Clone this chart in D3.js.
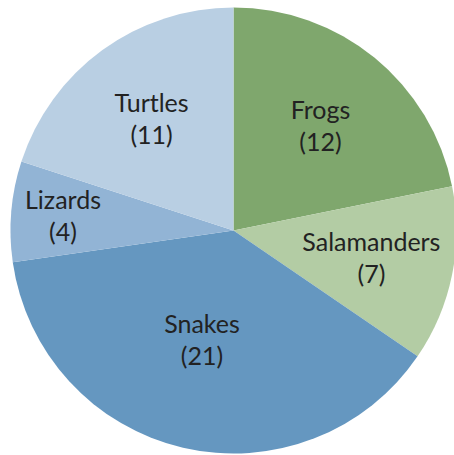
<!DOCTYPE html>
<html><head><meta charset="utf-8">
<script src="https://cdn.jsdelivr.net/npm/d3@7"></script>
<style>html,body{margin:0;padding:0;background:#fff;overflow:hidden}</style>
</head><body>
<svg id="chart" width="454" height="455"></svg>
<script>
const categories = ["Frogs", "Salamanders", "Snakes", "Lizards", "Turtles"];
const values = [12, 7, 21, 4, 11];
const colors = ["#7fa76d", "#b3cca4", "#6597c0", "#92b4d5", "#b9cfe3"];

const W = 454, H = 455;
const cx = 233.5, cy = 230.5, R = 223;
const svg = d3.select("#chart");
const g = svg.append("g").attr("transform", `translate(${cx},${cy})`);

const data = categories.map((c, i) => ({ name: c, value: values[i], color: colors[i] }));
const pie = d3.pie().sort(null).value(d => d.value);
const arcs = pie(data);
const arc = d3.arc().innerRadius(0).outerRadius(R);

g.selectAll("path.slice").data(arcs).join("path")
  .attr("class", "slice")
  .attr("d", arc)
  .attr("fill", d => d.data.color)
  .attr("stroke", "none");

// label placement (radius fraction, angle nudge in degrees) mimicking Excel best-fit
const labelFrac = { Frogs: 0.58, Salamanders: 0.64, Snakes: 0.55, Lizards: 0.765, Turtles: 0.59 };
const labelNudge = { Frogs: 3, Salamanders: 3.5, Snakes: 1.8, Lizards: -3, Turtles: -2.5 };
const lineGap = 32;
const labels = g.selectAll("text.lbl").data(arcs).join("text")
  .attr("class", "lbl")
  .attr("text-anchor", "middle")
  .attr("font-family", "Lato, 'Open Sans', sans-serif")
  .attr("font-size", 25)
  .attr("fill", "#222")
  .attr("transform", d => {
    const a = (d.startAngle + d.endAngle) / 2 + labelNudge[d.data.name] * Math.PI / 180;
    const r = R * labelFrac[d.data.name];
    return `translate(${r * Math.sin(a)},${-r * Math.cos(a)})`;
  });
labels.append("tspan").attr("x", 0).attr("y", -lineGap / 2).text(d => d.data.name);
labels.append("tspan").attr("x", 0).attr("y", lineGap / 2).text(d => `(${d.data.value})`);
</script>
</body></html>
